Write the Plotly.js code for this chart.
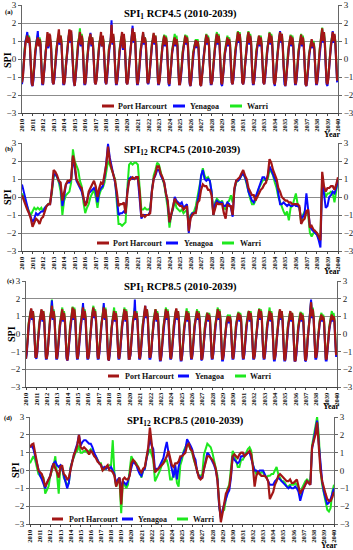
<!DOCTYPE html>
<html><head><meta charset="utf-8">
<script src="https://cdn.plot.ly/plotly-3.0.1.min.js"></script>
<style>html,body{margin:0;padding:0;background:#fff}#chart{width:353px;height:550px}</style>
</head><body><div id="chart"></div>
<script>
const stations = ['Port Harcourt', 'Yenagoa', 'Warri'];

// ---------- SPI1 RCP4.5, monthly Jan 2010 - Dec 2039 ----------
const PH_SPI1_45 = [
-1.3,-1.0,-0.3,0.5,0.9,1.1,1.3,0.9,1.2,0.8,-0.4,-1.3,
-1.5,-1.1,-0.4,0.4,0.8,1.0,1.2,0.7,1.1,0.9,-0.3,-1.3,
-1.4,-0.9,-0.2,0.5,1.0,1.5,0.7,1.4,1.3,0.8,-0.5,-1.3,
-1.4,-1.0,-0.3,0.4,0.9,1.2,1.65,0.9,1.3,0.9,-0.4,-1.3,
-1.4,-1.1,-0.4,0.3,0.8,1.2,1.65,1.0,1.6,0.9,-0.3,-1.2,
-1.5,-1.0,-0.3,0.4,0.9,1.1,1.5,0.8,1.3,1.0,-0.2,-1.3,
-1.4,-1.0,-0.2,0.5,0.9,1.2,1.4,0.8,1.2,0.7,-0.4,-1.3,
-1.4,-1.1,-0.4,0.4,0.8,1.1,1.5,0.7,1.3,0.9,-0.3,-1.2,
-1.4,-1.0,-0.3,0.5,0.9,1.0,1.9,0.9,1.4,0.8,-0.4,-1.3,
-1.4,-1.0,-0.3,0.4,0.8,1.2,1.5,0.6,1.4,0.9,-0.3,-1.3,
-1.4,-1.1,-0.4,0.3,0.9,1.2,1.7,1.0,1.5,1.0,-0.3,-1.3,
-1.4,-1.0,-0.3,0.4,0.8,1.1,1.5,0.9,1.2,0.9,-0.4,-1.3,
-1.3,-1.0,-0.4,0.4,0.8,1.1,1.45,0.9,1.3,0.8,-0.4,-1.3,
-1.4,-1.1,-0.4,0.3,0.7,1.0,1.3,0.8,1.2,0.9,-0.3,-1.3,
-1.4,-1.0,-0.3,0.4,0.8,1.0,1.2,0.8,1.1,0.8,-0.4,-1.4,
-1.4,-1.0,-0.4,0.3,0.7,1.0,1.3,0.9,1.2,0.8,-0.4,-1.3,
-1.5,-1.1,-0.4,0.3,0.6,0.9,1.05,0.7,1.0,0.7,-0.5,-1.4,
-1.5,-1.0,-0.4,0.3,0.7,1.0,1.35,0.9,1.2,0.8,-0.4,-1.3,
-1.4,-1.1,-0.4,0.3,0.7,1.1,1.4,0.9,1.3,0.9,-0.4,-1.3,
-1.4,-1.0,-0.4,0.3,0.7,0.9,1.2,0.8,1.1,0.8,-0.4,-1.3,
-1.4,-1.0,-0.3,0.4,0.8,1.1,1.5,1.0,1.4,0.9,-0.3,-1.3,
-1.4,-1.1,-0.4,0.3,0.8,1.2,1.5,0.9,1.3,0.9,-0.4,-1.3,
-1.4,-1.0,-0.3,0.4,0.7,1.0,1.3,0.8,1.2,0.8,-0.4,-1.3,
-1.4,-1.0,-0.4,0.3,0.8,1.1,1.45,0.9,1.3,0.9,-0.3,-1.3,
-1.4,-1.1,-0.4,0.3,0.8,1.2,1.5,1.0,1.4,0.8,-0.4,-1.3,
-1.5,-1.1,-0.4,0.3,0.7,1.0,1.3,0.8,1.2,0.8,-0.4,-1.3,
-1.4,-1.0,-0.3,0.4,0.8,1.1,1.35,0.8,1.2,0.8,-0.4,-1.4,
-1.5,-1.1,-0.5,0.2,0.6,0.8,1.1,0.7,0.9,0.6,-0.5,-1.3,
-1.4,-1.0,-0.3,0.4,0.9,1.2,1.7,1.0,1.5,0.9,-0.3,-1.3,
-1.4,-1.1,-0.4,0.3,0.8,1.1,1.5,1.0,1.4,0.9,-0.3,-1.2];
const YE_SPI1_45 = [
-1.4,-1.0,-0.2,0.6,1.0,1.2,1.5,0.9,1.1,0.7,-0.5,-1.4,
-1.5,-1.2,-0.5,0.3,0.7,1.1,1.55,0.8,0.9,0.8,-0.4,-1.4,
-1.4,-1.0,-0.3,0.4,0.9,1.0,0.6,0.8,1.0,0.7,-0.5,-1.3,
-1.4,-1.1,-0.4,0.3,0.7,1.0,1.2,0.8,0.9,0.8,-0.5,-1.4,
-1.4,-1.1,-0.5,0.2,0.7,1.1,1.6,0.9,1.5,0.8,-0.4,-1.3,
-1.5,-1.1,-0.4,0.3,0.7,1.0,1.1,0.7,1.0,0.9,-0.3,-1.4,
-1.4,-1.1,-0.3,0.4,0.8,1.1,1.45,0.7,1.1,0.6,-0.5,-1.3,
-1.4,-1.1,-0.5,0.3,0.7,0.9,1.2,0.7,1.0,0.8,-0.4,-1.3,
-1.4,-1.1,-0.4,0.4,0.8,1.0,2.15,0.8,1.2,0.7,-0.5,-1.4,
-1.4,-1.1,-0.4,0.3,0.7,0.9,1.0,0.5,0.9,0.8,-0.4,-1.3,
-1.4,-1.1,-0.5,0.2,0.8,1.1,1.85,0.9,1.3,0.9,-0.4,-1.4,
-1.4,-1.1,-0.4,0.3,0.7,1.0,1.4,0.8,1.1,0.8,-0.5,-1.3,
-1.4,-1.1,-0.5,0.3,0.7,1.0,1.3,0.8,1.2,0.7,-0.5,-1.4,
-1.4,-1.1,-0.5,0.2,0.6,0.9,1.2,0.7,1.0,0.8,-0.4,-1.4,
-1.5,-1.1,-0.4,0.3,0.7,0.9,1.1,0.7,1.0,0.7,-0.5,-1.4,
-1.4,-1.1,-0.5,0.2,0.6,0.9,1.0,0.8,1.0,0.7,-0.5,-1.4,
-1.5,-1.2,-0.5,0.2,0.5,0.8,1.0,0.6,0.9,0.6,-0.6,-1.4,
-1.5,-1.1,-0.5,0.2,0.6,0.9,1.3,0.8,1.1,0.7,-0.5,-1.4,
-1.4,-1.2,-0.5,0.2,0.6,1.0,1.3,0.8,1.2,0.8,-0.5,-1.4,
-1.5,-1.1,-0.5,0.2,0.6,0.8,1.0,0.7,1.0,0.7,-0.5,-1.3,
-1.4,-1.1,-0.4,0.3,0.7,1.0,1.3,0.9,1.2,0.8,-0.4,-1.3,
-1.4,-1.2,-0.5,0.2,0.7,1.1,1.4,0.8,1.2,0.8,-0.5,-1.4,
-1.4,-1.1,-0.4,0.3,0.6,0.9,1.1,0.7,1.0,0.7,-0.5,-1.3,
-1.4,-1.1,-0.5,0.2,0.7,1.0,1.3,0.8,1.2,0.8,-0.4,-1.3,
-1.5,-1.1,-0.5,0.2,0.7,1.1,1.55,0.9,1.2,0.7,-0.5,-1.4,
-1.5,-1.2,-0.5,0.2,0.6,0.9,1.2,0.7,1.1,0.7,-0.5,-1.4,
-1.4,-1.1,-0.4,0.3,0.7,1.0,1.1,0.7,1.0,0.7,-0.5,-1.4,
-1.5,-1.2,-0.6,0.1,0.5,0.7,0.9,0.6,0.8,0.5,-0.6,-1.4,
-1.4,-1.1,-0.4,0.3,0.8,1.1,1.6,0.9,1.3,0.8,-0.4,-1.4,
-1.5,-1.1,-0.5,0.2,0.7,1.0,1.55,0.9,1.3,0.8,-0.4,-1.3];
const WA_SPI1_45 = [
-1.3,-0.9,-0.2,0.6,1.0,1.2,1.4,1.0,1.3,0.9,-0.3,-1.2,
-1.4,-1.0,-0.3,0.5,0.9,1.1,1.3,0.8,1.2,1.0,-0.2,-1.2,
-1.3,-0.9,-0.2,0.5,1.0,1.2,0.8,1.2,1.1,0.9,-0.4,-1.2,
-1.3,-0.9,-0.2,0.5,1.0,1.2,1.4,1.0,1.3,1.0,-0.3,-1.2,
-1.3,-1.0,-0.3,0.4,0.9,1.2,1.5,1.1,1.4,1.0,-0.2,-1.2,
-1.4,-0.9,-0.2,0.5,1.0,1.2,1.7,0.9,1.4,1.1,-0.1,-1.2,
-1.3,-0.9,-0.1,0.6,1.0,1.2,1.3,0.9,1.2,0.8,-0.3,-1.2,
-1.3,-1.0,-0.3,0.5,0.9,1.1,1.3,0.8,1.2,1.0,-0.2,-1.1,
-1.3,-0.9,-0.2,0.6,1.0,1.1,1.4,1.0,1.3,0.9,-0.3,-1.2,
-1.3,-0.9,-0.2,0.5,0.9,1.2,1.3,0.7,1.2,1.0,-0.2,-1.2,
-1.3,-1.0,-0.3,0.4,1.0,1.2,1.6,1.1,1.4,1.1,-0.2,-1.2,
-1.3,-0.9,-0.2,0.5,0.9,1.1,1.4,1.0,1.2,1.0,-0.3,-1.2,
-1.2,-0.9,-0.3,0.5,0.9,1.1,1.4,1.0,1.3,0.9,-0.3,-1.2,
-1.3,-1.0,-0.3,0.4,0.8,1.1,1.35,0.9,1.3,1.0,-0.2,-1.2,
-1.3,-0.9,-0.2,0.5,0.9,1.1,1.4,0.9,1.3,0.9,-0.3,-1.3,
-1.3,-0.9,-0.3,0.4,0.8,1.1,1.35,1.0,1.3,0.9,-0.3,-1.2,
-1.4,-1.0,-0.3,0.4,0.7,1.0,1.1,0.8,1.1,0.8,-0.4,-1.3,
-1.4,-0.9,-0.3,0.4,0.8,1.1,1.4,1.0,1.3,0.9,-0.3,-1.2,
-1.3,-1.0,-0.3,0.4,0.8,1.2,1.5,1.0,1.4,1.0,-0.3,-1.2,
-1.3,-0.9,-0.3,0.4,0.8,1.0,1.3,0.9,1.2,0.9,-0.3,-1.2,
-1.3,-0.9,-0.2,0.5,0.9,1.2,1.55,1.1,1.5,1.0,-0.2,-1.2,
-1.3,-1.0,-0.3,0.4,0.9,1.3,1.55,1.0,1.4,1.0,-0.3,-1.2,
-1.3,-0.9,-0.2,0.5,0.8,1.1,1.3,0.9,1.3,0.9,-0.3,-1.2,
-1.3,-0.9,-0.3,0.4,0.9,1.2,1.5,1.0,1.4,1.0,-0.2,-1.2,
-1.3,-1.0,-0.3,0.4,0.9,1.2,1.45,1.1,1.4,0.9,-0.3,-1.2,
-1.4,-1.0,-0.3,0.4,0.8,1.1,1.35,0.9,1.3,0.9,-0.3,-1.2,
-1.3,-0.9,-0.2,0.5,0.9,1.2,1.4,0.9,1.3,0.9,-0.3,-1.3,
-1.4,-1.0,-0.4,0.3,0.7,0.9,1.0,0.8,1.0,0.7,-0.4,-1.2,
-1.3,-0.9,-0.2,0.5,1.0,1.3,1.75,1.1,1.5,1.0,-0.2,-1.2,
-1.3,-1.0,-0.3,0.4,0.9,1.2,1.4,1.0,1.3,1.0,-0.2,-1.1];

// ---------- SPI12 RCP4.5, every second month Jan 2010 - Jan 2040 ----------
const PH_SPI12_45 = [
0.1,-0.2,-0.5,-0.7,-0.9,-1.2,
-1.65,-1.45,-1.2,-1.3,-1.5,-1.2,
-1.1,-0.8,-0.5,-0.4,-0.4,0.4,
1.5,1.4,1.2,0.9,0.8,-0.2,
0.2,0.7,0.9,0.9,1.0,2.3,
1.9,1.0,0.8,0.6,0.5,0.0,
-0.5,-0.3,0.3,0.5,0.7,0.9,
0.6,0.0,0.5,0.8,0.7,1.2,
1.8,2.8,2.0,1.6,1.2,0.9,
0.3,-0.5,-0.4,-0.4,-0.3,-0.9,
0.2,0.9,1.0,1.1,1.0,1.1,
1.1,0.3,-1.1,-1.0,-1.1,-1.0,
-1.0,-0.9,0.3,1.0,1.3,1.7,
1.7,1.3,1.1,0.8,0.2,-0.2,
-1.4,-0.9,-0.6,-0.1,-0.3,-0.4,
-0.5,-0.5,-0.7,-0.6,-0.5,-1.9,
-1.2,-1.0,-0.9,-0.9,-0.3,-0.2,
0.4,0.7,0.6,0.6,0.4,0.4,
0.1,-1.0,-0.6,-0.3,-0.4,-0.4,
-0.4,-0.9,-1.2,-0.4,-0.5,-0.5,
-1.0,0.5,0.9,1.0,1.1,1.3,
1.5,1.2,1.0,0.5,0.3,0.1,
0.1,-0.2,0.0,0.2,0.4,0.5,
0.7,0.8,1.2,2.1,1.9,1.5,
1.2,1.0,0.5,0.3,0.0,-0.1,
-0.2,-0.2,-0.3,-0.3,-0.4,-0.4,
-0.4,-0.4,-0.5,-1.5,-1.3,-1.2,
-0.8,-0.7,-1.7,-1.6,-1.8,-1.9,
-2.0,-2.2,-2.4,1.4,0.6,0.3,
0.5,0.5,0.6,0.6,0.4,0.7,
1.1];
const YE_SPI12_45 = [
0.7,0.3,-0.2,-0.6,-0.9,-1.1,
-1.4,-1.2,-0.9,-1.0,-0.9,-0.8,
-0.8,-0.6,-0.5,-0.4,-0.4,0.3,
1.2,1.3,1.1,0.9,0.6,-0.5,
0.0,0.7,0.8,0.8,1.0,2.2,
1.6,0.9,0.7,0.5,0.3,-0.1,
-0.4,-0.2,0.2,0.3,0.4,0.5,
0.3,-0.3,0.3,0.5,0.6,1.1,
1.9,2.95,2.2,1.7,1.3,0.8,
0.0,-1.0,-0.9,-0.9,-0.8,-0.9,
0.3,1.0,1.1,1.0,1.0,1.1,
1.0,0.0,-1.2,-1.0,-1.0,-1.0,
-1.0,-0.8,0.4,1.0,1.2,1.5,
1.5,1.2,1.0,0.8,0.2,-0.3,
-1.4,-1.0,-0.6,0.0,-0.2,-0.3,
-0.4,-0.3,-0.6,-0.5,-0.4,-2.0,
-1.1,-0.9,-0.9,-0.8,-0.2,0.3,
1.2,1.5,1.0,0.9,1.0,0.9,
0.3,-1.0,-0.4,-0.2,-0.3,-0.3,
-0.3,-0.5,-0.5,-0.3,-0.4,-0.6,
-1.1,0.4,0.9,0.9,1.0,1.2,
1.3,1.1,0.8,0.3,0.0,-0.2,
-0.3,0.0,0.3,0.6,0.8,1.1,
1.1,0.9,1.2,1.7,1.5,1.2,
1.0,0.8,0.2,-0.4,-0.4,-0.3,
-0.4,-0.5,-0.4,-0.5,-0.5,-0.4,
-0.5,-0.5,-0.6,-1.2,-1.1,-0.9,
0.2,-0.8,-1.6,-1.8,-1.9,-2.0,
-2.1,-2.4,-2.8,1.0,0.0,-0.6,
-0.5,0.0,0.1,0.3,0.2,0.5,
1.0];
const WA_SPI12_45 = [
0.2,0.0,-0.3,-0.6,-0.8,-1.0,
-0.8,-0.6,-0.7,-0.6,-0.7,-0.6,
-0.8,-0.6,-0.5,-0.4,-0.3,0.2,
1.1,1.3,1.1,0.8,0.3,-1.0,
-0.2,0.1,0.2,0.3,0.8,2.65,
2.0,1.7,1.5,0.9,0.6,-0.3,
-0.9,-0.6,-0.4,0.0,0.2,0.4,
0.0,-0.6,0.1,0.4,0.5,0.8,
1.4,2.0,1.8,1.5,1.2,1.0,
-0.3,-1.5,-1.5,-1.6,-1.5,-1.4,
0.5,1.8,1.9,1.8,1.9,1.9,
1.8,0.5,-0.7,-0.7,-0.6,-0.7,
-0.7,-0.6,0.5,1.2,1.5,1.9,
1.8,1.3,1.0,0.7,0.0,-0.6,
-1.7,-1.0,-0.7,-0.2,-0.6,-0.7,
-0.8,-0.7,-0.9,-0.8,-0.7,-1.6,
-1.0,-0.9,-0.8,-0.5,0.0,0.5,
1.1,1.6,1.2,1.0,1.1,0.9,
0.3,-1.0,-0.3,-0.1,-0.2,-0.3,
-0.2,-0.6,-0.7,-0.3,-0.2,0.1,
-0.3,0.4,0.8,0.9,1.0,1.2,
1.3,1.1,0.7,0.2,-0.1,-0.4,
-0.4,-0.2,0.2,0.5,0.7,0.9,
1.0,0.9,1.0,1.5,1.4,1.2,
0.8,0.5,0.0,-0.3,-0.5,-0.8,
-1.0,-0.8,-1.3,-0.6,-0.5,-0.2,
0.2,-0.4,-0.6,-1.4,-1.0,-0.8,
-0.8,-1.0,-2.0,-2.2,-2.0,-1.9,
-2.1,-2.3,-2.2,1.2,0.4,0.0,
0.2,0.2,0.3,0.2,-0.3,0.3,
1.0];

// ---------- SPI1 RCP8.5, monthly ----------
const PH_SPI1_85 = [
-1.4,-1.0,-0.3,0.5,0.9,1.2,1.45,0.9,1.3,0.8,-0.4,-1.3,
-1.3,-1.0,-0.3,0.4,0.8,1.1,1.4,0.8,1.3,0.9,-0.3,-1.3,
-1.4,-1.1,-0.4,0.4,0.9,1.2,1.6,0.9,1.3,0.9,-0.4,-1.3,
-1.4,-1.0,-0.3,0.4,0.8,1.1,1.4,0.8,1.2,0.8,-0.4,-1.3,
-1.5,-1.1,-0.4,0.3,0.8,1.1,1.5,0.9,1.4,0.9,-0.3,-1.3,
-1.4,-1.0,-0.3,0.4,0.9,1.2,1.5,0.9,1.3,0.9,-0.4,-1.3,
-1.4,-1.1,-0.4,0.4,0.8,1.2,1.5,1.0,1.3,0.8,-0.4,-1.3,
-1.4,-1.0,-0.3,0.4,0.9,1.1,1.5,0.9,1.4,0.9,-0.3,-1.4,
-1.5,-1.1,-0.4,0.3,0.8,1.0,1.3,0.8,1.2,0.8,-0.4,-1.3,
-1.4,-1.0,-0.3,0.4,0.8,1.1,1.4,0.8,1.3,0.9,-0.4,-1.4,
-1.4,-1.1,-0.4,0.3,0.8,1.0,1.3,0.9,1.2,0.8,-0.4,-1.3,
-1.4,-1.0,-0.3,0.4,0.9,1.2,1.6,1.0,1.4,0.9,-0.3,-1.3,
-1.3,-1.0,-0.3,0.4,0.8,1.1,1.4,0.8,1.2,0.8,-0.4,-1.4,
-1.5,-1.1,-0.4,0.3,0.8,1.1,1.4,0.9,1.3,0.9,-0.4,-1.3,
-1.4,-1.0,-0.3,0.4,0.9,1.2,1.45,0.9,1.3,0.8,-0.4,-1.4,
-1.5,-1.1,-0.4,0.3,0.7,1.0,1.3,0.8,1.2,0.8,-0.4,-1.3,
-1.4,-1.0,-0.3,0.4,0.8,1.1,1.3,0.9,1.2,0.8,-0.4,-1.4,
-1.4,-1.0,-0.4,0.3,0.7,1.0,1.2,0.8,1.1,0.8,-0.4,-1.3,
-1.4,-1.0,-0.3,0.4,0.8,1.1,1.4,0.9,1.3,0.9,-0.4,-1.4,
-1.4,-1.1,-0.4,0.3,0.6,0.9,1.0,0.7,1.0,0.7,-0.5,-1.3,
-1.4,-1.0,-0.3,0.4,0.8,1.0,1.2,0.8,1.1,0.8,-0.4,-1.3,
-1.4,-1.0,-0.3,0.4,0.8,1.1,1.3,0.8,1.2,0.8,-0.4,-1.3,
-1.4,-1.1,-0.4,0.3,0.8,1.1,1.4,0.9,1.3,0.9,-0.4,-1.3,
-1.4,-1.0,-0.3,0.4,0.8,1.0,1.3,0.8,1.2,0.8,-0.4,-1.4,
-1.4,-1.1,-0.4,0.3,0.8,1.1,1.4,0.9,1.3,0.8,-0.4,-1.4,
-1.5,-1.1,-0.4,0.3,0.7,1.0,1.3,0.8,1.2,0.8,-0.4,-1.5,
-1.5,-1.1,-0.4,0.3,0.7,1.0,1.2,0.8,1.1,0.8,-0.4,-1.4,
-1.5,-1.1,-0.3,0.4,0.9,1.2,1.8,1.0,1.4,0.9,-0.3,-1.3,
-1.3,-1.0,-0.3,0.4,0.7,0.9,1.1,0.8,1.0,0.7,-0.4,-1.4,
-1.4,-1.0,-0.3,0.3,0.7,0.9,1.1,0.8,1.0,0.8,-0.3,-1.2];
const YE_SPI1_85 = [
-1.4,-1.1,-0.3,0.4,0.8,1.1,1.4,0.8,1.1,0.7,-0.5,-1.3,
-1.4,-1.1,-0.4,0.3,0.7,1.0,1.3,0.7,1.1,0.8,-0.4,-1.4,
-1.4,-1.1,-0.4,0.4,0.8,1.1,1.9,0.8,1.1,0.8,-0.5,-1.4,
-1.4,-1.1,-0.4,0.3,0.7,0.9,1.1,0.7,1.0,0.7,-0.5,-1.4,
-1.5,-1.2,-0.5,0.2,0.7,1.0,1.3,0.8,1.2,0.8,-0.4,-1.4,
-1.4,-1.1,-0.4,0.3,0.8,1.1,1.75,0.8,1.1,0.8,-0.5,-1.4,
-1.4,-1.2,-0.5,0.3,0.7,1.1,1.4,0.9,1.1,0.7,-0.5,-1.4,
-1.4,-1.1,-0.4,0.3,0.8,1.0,1.75,0.8,1.2,0.8,-0.4,-1.4,
-1.5,-1.2,-0.5,0.2,0.7,0.9,1.1,0.7,1.0,0.7,-0.5,-1.4,
-1.4,-1.1,-0.4,0.3,0.7,1.0,1.3,0.7,1.1,0.8,-0.5,-1.4,
-1.4,-1.2,-0.5,0.2,0.7,0.9,1.95,0.8,1.1,0.7,-0.5,-1.4,
-1.4,-1.1,-0.4,0.3,0.8,1.1,1.6,0.9,1.2,0.8,-0.4,-1.4,
-1.4,-1.1,-0.4,0.3,0.7,1.0,1.3,0.7,1.1,0.7,-0.5,-1.5,
-1.5,-1.2,-0.5,0.2,0.7,1.0,1.3,0.8,1.1,0.8,-0.5,-1.4,
-1.4,-1.1,-0.4,0.3,0.8,1.1,1.3,0.8,1.1,0.7,-0.5,-1.5,
-1.5,-1.2,-0.5,0.2,0.6,0.9,1.1,0.7,1.0,0.7,-0.5,-1.4,
-1.4,-1.1,-0.4,0.3,0.7,1.0,1.2,0.8,1.1,0.7,-0.5,-1.5,
-1.4,-1.1,-0.5,0.2,0.6,0.9,1.1,0.7,1.0,0.7,-0.5,-1.4,
-1.4,-1.1,-0.4,0.3,0.7,1.0,1.2,0.8,1.1,0.8,-0.5,-1.5,
-1.5,-1.2,-0.5,0.2,0.5,0.8,0.9,0.6,0.9,0.6,-0.6,-1.4,
-1.4,-1.1,-0.4,0.3,0.7,0.9,1.1,0.7,1.0,0.7,-0.5,-1.4,
-1.4,-1.1,-0.4,0.3,0.7,1.0,1.2,0.7,1.1,0.7,-0.5,-1.4,
-1.4,-1.2,-0.5,0.2,0.7,1.0,1.2,0.8,1.1,0.8,-0.5,-1.4,
-1.4,-1.1,-0.4,0.3,0.7,0.9,1.1,0.7,1.0,0.7,-0.5,-1.5,
-1.5,-1.2,-0.5,0.2,0.7,1.0,1.15,0.8,1.1,0.7,-0.5,-1.5,
-1.5,-1.2,-0.5,0.2,0.6,0.9,1.1,0.7,1.0,0.7,-0.5,-1.55,
-1.5,-1.2,-0.5,0.2,0.6,0.9,1.1,0.7,1.0,0.7,-0.5,-1.5,
-1.55,-1.2,-0.4,0.3,0.8,1.1,1.95,0.9,1.2,0.8,-0.4,-1.4,
-1.4,-1.1,-0.4,0.3,0.6,0.8,1.0,0.7,0.9,0.6,-0.5,-1.5,
-1.5,-1.1,-0.4,0.2,0.6,0.8,1.0,0.7,0.9,0.7,-0.4,-1.3];
const WA_SPI1_85 = [
-1.3,-0.9,-0.2,0.6,1.0,1.2,1.4,1.0,1.3,0.9,-0.3,-1.2,
-1.3,-0.9,-0.2,0.5,0.9,1.1,1.35,0.9,1.3,1.0,-0.2,-1.2,
-1.3,-1.0,-0.3,0.5,1.0,1.3,1.95,1.0,1.4,1.0,-0.3,-1.2,
-1.3,-0.9,-0.2,0.5,0.9,1.2,1.5,0.9,1.3,0.9,-0.3,-1.2,
-1.4,-1.0,-0.3,0.4,0.9,1.2,1.55,1.0,1.5,1.0,-0.2,-1.2,
-1.3,-0.9,-0.2,0.5,1.0,1.3,1.6,1.0,1.4,1.0,-0.3,-1.2,
-1.3,-1.0,-0.3,0.5,0.9,1.3,1.6,1.1,1.4,0.9,-0.3,-1.2,
-1.3,-0.9,-0.2,0.5,1.0,1.2,1.6,1.0,1.5,1.0,-0.2,-1.3,
-1.4,-1.0,-0.3,0.4,0.9,1.1,1.5,0.9,1.3,0.9,-0.3,-1.2,
-1.3,-0.9,-0.2,0.5,0.9,1.2,1.5,0.9,1.4,1.0,-0.3,-1.3,
-1.3,-1.0,-0.3,0.4,0.9,1.1,1.5,1.0,1.3,0.9,-0.3,-1.2,
-1.3,-0.9,-0.2,0.5,1.0,1.2,1.4,1.1,1.4,1.0,-0.2,-1.2,
-1.2,-0.9,-0.2,0.5,0.9,1.2,1.4,0.9,1.3,0.9,-0.3,-1.3,
-1.4,-1.0,-0.3,0.4,0.9,1.2,1.5,1.0,1.4,1.0,-0.3,-1.2,
-1.3,-0.9,-0.2,0.5,1.0,1.2,1.4,1.0,1.3,0.9,-0.3,-1.3,
-1.4,-1.0,-0.3,0.4,0.8,1.1,1.45,0.9,1.3,0.9,-0.3,-1.2,
-1.3,-0.9,-0.2,0.5,0.9,1.2,1.4,1.0,1.3,0.9,-0.3,-1.3,
-1.3,-0.9,-0.3,0.4,0.8,1.1,1.2,0.9,1.2,0.9,-0.3,-1.2,
-1.3,-0.9,-0.2,0.5,0.9,1.2,1.5,1.0,1.4,1.0,-0.3,-1.3,
-1.3,-1.0,-0.3,0.4,0.7,1.0,1.1,0.8,1.1,0.8,-0.4,-1.2,
-1.3,-0.9,-0.2,0.5,0.9,1.1,1.25,0.9,1.2,0.9,-0.3,-1.2,
-1.3,-0.9,-0.2,0.5,0.9,1.2,1.3,0.9,1.3,0.9,-0.3,-1.2,
-1.3,-1.0,-0.3,0.4,0.9,1.2,1.45,1.0,1.4,1.0,-0.3,-1.2,
-1.3,-0.9,-0.2,0.5,0.9,1.1,1.5,0.9,1.3,0.9,-0.3,-1.3,
-1.3,-1.0,-0.3,0.4,0.9,1.2,1.35,1.0,1.3,0.9,-0.3,-1.3,
-1.4,-1.0,-0.3,0.4,0.8,1.1,1.25,0.9,1.2,0.9,-0.3,-1.4,
-1.4,-1.0,-0.3,0.4,0.8,1.1,1.25,0.9,1.2,0.9,-0.3,-1.3,
-1.4,-1.0,-0.2,0.5,1.0,1.3,1.8,1.1,1.5,1.0,-0.2,-1.2,
-1.2,-0.9,-0.2,0.5,0.8,1.0,1.2,0.9,1.1,0.8,-0.3,-1.3,
-1.3,-0.9,-0.2,0.4,0.8,1.0,1.3,0.9,1.2,0.9,-0.2,-1.1];

// ---------- SPI12 RCP8.5, every second month ----------
const PH_SPI12_85 = [
1.3,1.45,1.5,1.0,0.5,0.0,
-0.1,-0.2,-0.5,-0.9,-0.7,-0.5,
-0.3,0.1,0.4,0.1,-0.1,-0.4,
0.2,0.3,-0.2,-0.3,-0.5,-0.4,
0.1,0.5,0.9,1.1,1.4,2.0,
1.3,1.2,1.3,1.2,1.1,0.9,
1.1,1.0,0.8,0.7,0.5,0.4,
0.3,0.0,0.1,0.2,0.3,0.0,
0.0,-0.1,-0.3,-0.9,-0.6,-0.4,
-1.9,-0.5,-0.4,-0.5,-0.5,-0.3,
0.4,0.6,0.5,0.3,0.2,0.0,
-0.1,0.1,0.2,0.9,1.3,2.4,
1.5,0.9,-0.1,0.0,0.1,0.2,
0.3,0.4,0.6,0.8,1.1,0.6,
0.3,0.2,0.4,0.4,0.5,0.8,
0.8,0.9,1.0,1.4,1.5,1.2,
1.1,0.7,0.3,-0.1,-0.4,-0.5,
-0.4,0.1,0.4,0.8,0.8,0.7,
0.6,0.4,0.1,-0.6,-2.0,-2.9,
-2.4,-1.8,-1.3,-1.1,-0.9,-0.2,
0.8,0.9,0.8,0.7,0.9,1.0,
1.0,0.8,0.9,1.0,1.1,0.9,
0.2,-0.9,-0.3,-0.1,-0.2,-0.3,
-0.3,-0.3,-0.4,-0.6,-1.6,-1.4,
-1.2,-0.8,-0.6,-0.3,-0.2,-0.3,
-0.4,-0.5,-0.6,-0.6,-0.5,-0.7,
-0.7,-0.6,-0.5,-0.9,-1.3,-1.1,
-1.0,-0.8,-0.6,-0.7,-0.8,1.3,
1.6,2.0,2.7,1.0,0.0,-0.6,
-1.0,-1.3,-1.6,-1.7,-1.7,-1.5,
-1.2];
const YE_SPI12_85 = [
1.3,1.4,1.2,0.8,0.4,0.0,
-0.3,-0.5,-0.8,-1.0,-0.7,-0.5,
-0.3,0.2,0.4,0.5,0.3,0.2,
0.3,0.1,-0.3,-0.6,-1.0,-0.7,
0.1,0.5,0.9,1.2,1.5,2.0,
1.4,1.6,1.7,1.7,1.6,1.5,
1.5,1.3,1.0,0.8,0.6,0.4,
0.3,0.1,0.2,0.1,0.2,0.1,
0.2,0.0,-0.2,-0.8,-0.5,-0.4,
-1.0,-0.6,-0.7,-0.8,-0.6,-0.2,
0.2,0.5,0.4,0.3,0.0,-0.2,
-0.3,0.0,0.1,0.8,1.2,1.8,
1.4,1.2,0.0,0.1,0.1,0.3,
0.5,0.7,1.2,1.6,1.0,0.5,
0.2,-0.4,0.3,-0.5,0.2,0.6,
0.8,1.0,1.2,1.75,1.6,1.4,
1.2,0.8,0.6,-0.1,-0.3,-0.4,
-0.4,0.1,0.5,1.0,0.9,0.7,
0.5,0.3,0.0,-0.5,-2.0,-2.7,
-2.2,-1.9,-1.5,-1.3,-1.1,-0.4,
0.8,0.6,0.5,0.4,0.5,0.8,
0.8,0.9,0.9,1.0,1.0,0.7,
0.3,0.0,0.0,-0.1,0.0,0.0,
0.0,-0.2,-0.4,-0.6,-0.8,-0.8,
-0.8,-0.6,-0.5,-0.4,-0.5,-0.6,
-0.7,-0.8,-0.9,-1.0,-0.9,-1.0,
-1.0,-0.9,-1.0,-1.2,-1.7,-1.3,
-1.0,-0.8,-0.6,-0.7,-0.8,1.2,
1.7,2.2,2.8,1.5,0.2,-0.6,
-1.2,-1.6,-1.9,-1.8,-1.6,-1.3,
-1.0];
const WA_SPI12_85 = [
0.4,0.6,0.8,0.6,0.1,-0.2,
-0.3,-0.3,-0.4,-1.3,-1.1,-0.9,
-0.3,0.0,0.3,0.8,-0.2,-1.3,
0.3,0.2,-0.4,-0.6,-0.8,-0.7,
0.2,0.5,0.8,1.0,1.1,1.4,
1.0,1.0,1.1,1.1,1.0,1.1,
1.2,1.1,0.9,0.8,0.6,0.4,
0.4,0.0,0.1,0.1,0.2,0.3,
0.3,1.7,-0.2,-0.9,-0.5,-0.6,
-2.4,-0.6,-0.8,-1.0,-0.8,0.2,
0.8,0.6,0.5,0.4,0.2,-0.1,
-0.4,0.0,0.1,0.7,1.0,1.2,
0.9,0.6,-0.6,-0.4,-0.2,0.0,
0.3,0.5,0.5,0.6,0.2,-0.5,
-0.5,-0.2,0.2,-0.7,-0.9,0.3,
0.6,1.1,1.3,1.5,1.4,1.2,
1.0,0.6,0.3,0.0,-0.3,-0.3,
-0.2,0.9,1.2,1.5,1.4,1.3,
1.0,0.6,0.2,-0.3,-2.0,-2.6,
-2.3,-2.2,-1.6,-1.0,-0.8,0.3,
1.1,0.9,0.6,0.2,0.2,0.6,
0.6,0.8,1.0,1.2,1.3,1.1,
0.3,0.0,-0.2,-0.1,-0.2,-0.1,
-0.1,-0.3,-0.4,-0.3,-0.3,-0.2,
-0.2,0.0,0.2,-0.2,-0.4,-0.6,
-0.6,-0.7,-0.9,-0.9,-0.8,-0.8,
-0.8,-0.7,-0.8,-1.0,-1.5,-1.0,
-0.8,-0.6,-0.5,-0.6,-0.7,1.4,
1.9,2.4,3.0,2.0,0.0,-0.8,
-1.3,-1.8,-2.2,-2.3,-2.1,-1.2,
-0.8];

// ---------- layout helpers (pixel positions measured on the 353x550 figure) ----------
const W = 353, H = 550;
const px = v => v / W, py = v => 1 - v / H;
const SERIF = 'Liberation Serif, Times New Roman, DejaVu Serif, serif';
const lineColors = ['#a31616', '#0a0aff', '#1ee81e'];

const panels = [
  {label:'(a)', title:'SPI<sub>1</sub> RCP4.5 (2010-2039)', series:[PH_SPI1_45, YE_SPI1_45, WA_SPI1_45], perYear:12,
   box:[22, 338, 5, 113], titleAt:[180, 14], labelAt:[9, 12], spiAt:[7, 60], yearAt:[332, 134],
   leg:{y:106, lines:[[102,114],[173,185],[230,242]], texts:[116,188,245]}},
  {label:'(b)', title:'SPI<sub>12</sub> RCP4.5 (2010-2039)', series:[PH_SPI12_45, YE_SPI12_45, WA_SPI12_45], perYear:6,
   box:[22, 338, 143, 251], titleAt:[182, 150], labelAt:[9, 149], spiAt:[7, 197], yearAt:[332, 271],
   leg:{y:243, lines:[[97,109],[166,178],[222,234]], texts:[111,182,238]}},
  {label:'(c)', title:'SPI<sub>1</sub> RCP8.5 (2010-2039)', series:[PH_SPI1_85, YE_SPI1_85, WA_SPI1_85], perYear:12,
   box:[26, 337, 281, 387], titleAt:[181, 287], labelAt:[10, 281], spiAt:[11, 334], yearAt:[331, 406],
   leg:{y:376, lines:[[108,119],[178,189],[235,246]], texts:[123,193,248]}},
  {label:'(d)', title:'SPI<sub>12</sub> RCP8.5 (2010-2039)', series:[PH_SPI12_85, YE_SPI12_85, WA_SPI12_85], perYear:6,
   box:[30, 334, 417, 524], titleAt:[185, 421], labelAt:[8, 418], spiAt:[15, 470], yearAt:[329, 545],
   leg:{y:519, lines:[[52,63],[122,133],[177,188]], texts:[67,136,191]}}
];

const traces = [];
const layout = {
  width: W, height: H, margin:{l:0, r:0, t:0, b:0},
  paper_bgcolor:'#fff', plot_bgcolor:'#fff', showlegend:false,
  annotations:[], shapes:[]
};

panels.forEach((p, k) => {
  const n = k + 1, xa = 'x' + n, ya = 'y' + n, yr = 'y' + (n + 4);
  const [x0, x1, yt, yb] = p.box;
  const xKey = 'xaxis' + n, yKey = 'yaxis' + n, yrKey = 'yaxis' + (n + 4);
  layout[xKey] = {
    domain:[px(x0), px(x1)], anchor: ya, range:[2010, 2040],
    tickmode:'linear', tick0:2010, dtick:1, tickangle:-90,
    tickfont:{family:SERIF, size:6.6, weight:700, color:'#111'},
    ticks:'outside', ticklen:2, tickcolor:'#444', showline:true, linecolor:'#444', linewidth:1,
    showgrid:false, zeroline:false, fixedrange:true
  };
  const yBase = {
    range:[-3, 3], tickmode:'linear', tick0:-3, dtick:1, zeroline:false,
    showline:true, linecolor:'#666', linewidth:1, ticks:'outside', ticklen:3, tickcolor:'#666',
    tickfont:{family:SERIF, size:9, color:'#222'}, fixedrange:true
  };
  layout[yKey] = Object.assign({}, yBase, {domain:[py(yb), py(yt)], anchor: xa, showgrid:true, gridcolor:'#8c8c8c', gridwidth:1});
  layout[yrKey] = Object.assign({}, yBase, {overlaying: ya, anchor: xa, side:'right', showgrid:false});

  // draw Warri, Yenagoa, then Port Harcourt on top
  [2, 1, 0].forEach(s => {
    const vals = p.series[s];
    const xs = vals.map((_, i) => 2010 + i / p.perYear);
    traces.push({type:'scatter', mode:'lines', name: stations[s], x: xs, y: vals,
      xaxis: xa, yaxis: ya, line:{color: lineColors[s], width: s === 0 ? 2.2 : 2}, hoverinfo:'skip'});
  });
  traces.push({type:'scatter', mode:'lines', x:[null], y:[null], xaxis: xa, yaxis: yr, showlegend:false, hoverinfo:'skip'});

  const A = layout.annotations;
  A.push({xref:'paper', yref:'paper', x:px(p.titleAt[0]), y:py(p.titleAt[1]), text:p.title, showarrow:false,
    xanchor:'center', yanchor:'middle', font:{family:SERIF, size:10.5, weight:700, color:'#000'}});
  A.push({xref:'paper', yref:'paper', x:px(p.labelAt[0]), y:py(p.labelAt[1]), text:p.label, showarrow:false,
    xanchor:'center', yanchor:'middle', font:{family:SERIF, size:6.5, weight:700, color:'#000'}});
  A.push({xref:'paper', yref:'paper', x:px(p.spiAt[0]), y:py(p.spiAt[1]), text:'SPI', textangle:-90, showarrow:false,
    xanchor:'center', yanchor:'middle', font:{family:SERIF, size:10, weight:700, color:'#000'}});
  A.push({xref:'paper', yref:'paper', x:px(p.yearAt[0]), y:py(p.yearAt[1]), text:'Year', showarrow:false,
    xanchor:'center', yanchor:'middle', font:{family:SERIF, size:8, weight:700, color:'#000'}});
  p.leg.lines.forEach((ln, s) => {
    layout.shapes.push({type:'line', xref:'paper', yref:'paper', x0:px(ln[0]), x1:px(ln[1]), y0:py(p.leg.y), y1:py(p.leg.y),
      line:{color: lineColors[s], width:3}});
    A.push({xref:'paper', yref:'paper', x:px(p.leg.texts[s]), y:py(p.leg.y), text: stations[s], showarrow:false,
      xanchor:'left', yanchor:'middle', font:{family:SERIF, size:8, weight:700, color:'#111'}});
  });
});

Plotly.newPlot('chart', traces, layout, {displayModeBar:false, staticPlot:true});
</script>
</body></html>
